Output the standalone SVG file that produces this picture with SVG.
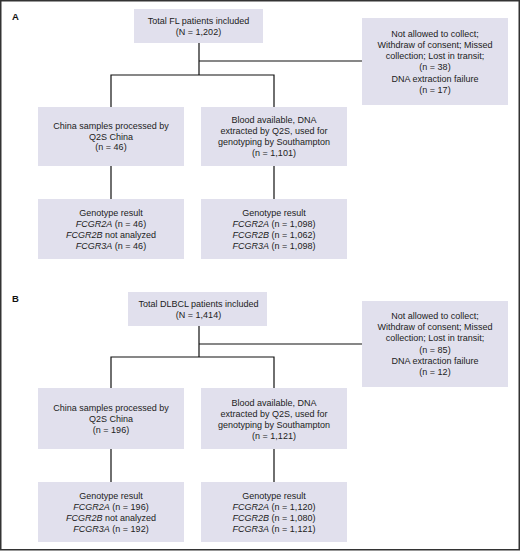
<svg xmlns="http://www.w3.org/2000/svg" width="520" height="551" viewBox="0 0 520 551">
<style>
.box{fill:#e1e0ed}
.t{font-family:"Liberation Sans",Arial,sans-serif;font-size:9px;fill:#222;text-anchor:middle}
.i{font-style:italic}
.lab{font-family:"Liberation Sans",Arial,sans-serif;font-size:9.5px;font-weight:bold;fill:#111}
.ln{stroke:#111;stroke-width:1.2;fill:none}
</style>
<rect x="0.75" y="0.75" width="518.5" height="549" fill="#fff" stroke="#333" stroke-width="1.5"/>
<text class="lab" x="12" y="20">A</text>
<text class="lab" x="12" y="302">B</text>
<g id="connectors">
<path class="ln" d="M199 43V75M199 61H362M111 107V75H274V107M111 166V199M274 166V199"/>
<path class="ln" d="M199 325V357M199 344H362M111 388V357H274V388M111 449V482M274 449V482"/>
</g>
<g id="a-total"><rect class="box" x="134" y="9" width="129" height="34"/>
<text class="t" x="198.5" y="23.8">Total FL patients included</text>
<text class="t" x="198.5" y="34.8">(N = 1,202)</text></g>
<g id="a-excluded"><rect class="box" x="362" y="18" width="146" height="87"/>
<text class="t" x="435" y="36.5">Not allowed to collect;</text>
<text class="t" x="435" y="47.5">Withdraw of consent; Missed</text>
<text class="t" x="435" y="58.5">collection; Lost in transit;</text>
<text class="t" x="435" y="70">(n = 38)</text>
<text class="t" x="435" y="81.5">DNA extraction failure</text>
<text class="t" x="435" y="92.5">(n = 17)</text></g>
<g id="a-china"><rect class="box" x="38" y="107" width="146" height="59"/>
<text class="t" x="111" y="129">China samples processed by</text>
<text class="t" x="111" y="139.5">Q2S China</text>
<text class="t" x="111" y="150">(n = 46)</text></g>
<g id="a-blood"><rect class="box" x="201" y="107" width="146" height="59"/>
<text class="t" x="274" y="122.5">Blood available, DNA</text>
<text class="t" x="274" y="133.8">extracted by Q2S, used for</text>
<text class="t" x="274" y="145">genotyping by Southampton</text>
<text class="t" x="274" y="156.3">(n = 1,101)</text></g>
<g id="a-china-geno"><rect class="box" x="38" y="199" width="146" height="60"/>
<text class="t" x="111" y="215.5">Genotype result</text>
<text class="t" x="111" y="226.7"><tspan class="i">FCGR2A</tspan> (n = 46)</text>
<text class="t" x="111" y="238"><tspan class="i">FCGR2B</tspan> not analyzed</text>
<text class="t" x="111" y="249.2"><tspan class="i">FCGR3A</tspan> (n = 46)</text></g>
<g id="a-blood-geno"><rect class="box" x="201" y="199" width="146" height="60"/>
<text class="t" x="274" y="215.5">Genotype result</text>
<text class="t" x="274" y="226.7"><tspan class="i">FCGR2A</tspan> (n = 1,098)</text>
<text class="t" x="274" y="238"><tspan class="i">FCGR2B</tspan> (n = 1,062)</text>
<text class="t" x="274" y="249.2"><tspan class="i">FCGR3A</tspan> (n = 1,098)</text></g>
<g id="b-total"><rect class="box" x="128" y="292" width="139" height="34"/>
<text class="t" x="198.5" y="306.8">Total DLBCL patients included</text>
<text class="t" x="198.5" y="317.8">(N = 1,414)</text></g>
<g id="b-excluded"><rect class="box" x="362" y="301" width="146" height="86"/>
<text class="t" x="435" y="319">Not allowed to collect;</text>
<text class="t" x="435" y="330">Withdraw of consent; Missed</text>
<text class="t" x="435" y="341">collection; Lost in transit;</text>
<text class="t" x="435" y="352.5">(n = 85)</text>
<text class="t" x="435" y="364">DNA extraction failure</text>
<text class="t" x="435" y="375">(n = 12)</text></g>
<g id="b-china"><rect class="box" x="38" y="388" width="146" height="61"/>
<text class="t" x="111" y="411">China samples processed by</text>
<text class="t" x="111" y="422">Q2S China</text>
<text class="t" x="111" y="433">(n = 196)</text></g>
<g id="b-blood"><rect class="box" x="201" y="388" width="146" height="61"/>
<text class="t" x="274" y="405.5">Blood available, DNA</text>
<text class="t" x="274" y="416.8">extracted by Q2S, used for</text>
<text class="t" x="274" y="428">genotyping by Southampton</text>
<text class="t" x="274" y="439.3">(n = 1,121)</text></g>
<g id="b-china-geno"><rect class="box" x="38" y="482" width="146" height="60"/>
<text class="t" x="111" y="498.5">Genotype result</text>
<text class="t" x="111" y="509.7"><tspan class="i">FCGR2A</tspan> (n = 196)</text>
<text class="t" x="111" y="521"><tspan class="i">FCGR2B</tspan> not analyzed</text>
<text class="t" x="111" y="532.2"><tspan class="i">FCGR3A</tspan> (n = 192)</text></g>
<g id="b-blood-geno"><rect class="box" x="201" y="482" width="146" height="60"/>
<text class="t" x="274" y="498.5">Genotype result</text>
<text class="t" x="274" y="509.7"><tspan class="i">FCGR2A</tspan> (n = 1,120)</text>
<text class="t" x="274" y="521"><tspan class="i">FCGR2B</tspan> (n = 1,080)</text>
<text class="t" x="274" y="532.2"><tspan class="i">FCGR3A</tspan> (n = 1,121)</text></g>
</svg>
